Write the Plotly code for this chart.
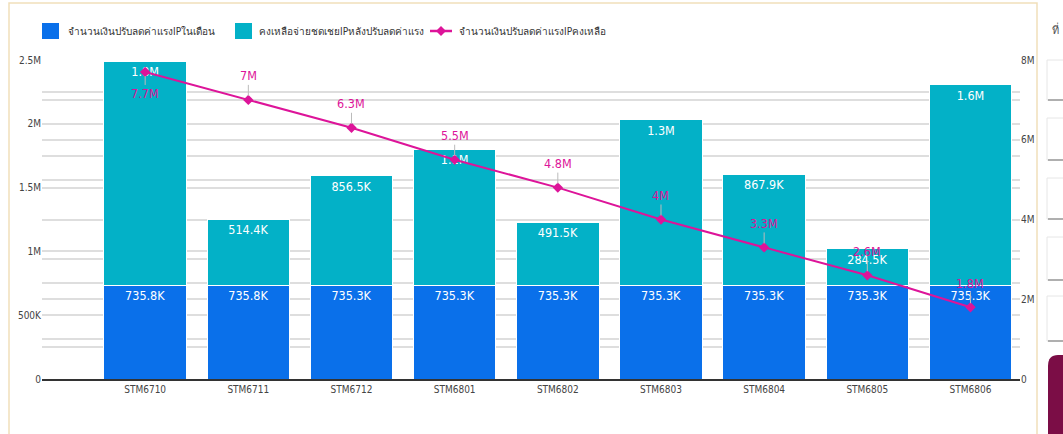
import plotly.graph_objects as go

# ---------------- data ----------------
categories = ["STM6710", "STM6711", "STM6712", "STM6801", "STM6802",
              "STM6803", "STM6804", "STM6805", "STM6806"]
adjust_in_month = [735.8e3, 735.8e3, 735.3e3, 735.3e3, 735.3e3,
                   735.3e3, 735.3e3, 735.3e3, 735.3e3]
remaining_after_adjust = [1.756e6, 514.4e3, 856.5e3, 1.065e6, 491.5e3,
                          1.295e6, 867.9e3, 284.5e3, 1.569e6]
adjust_remaining = [7.7e6, 7.0e6, 6.3e6, 5.5e6, 4.8e6, 4.0e6, 3.3e6, 2.6e6, 1.8e6]

series_names = ["จำนวนเงินปรับลดค่าแรงIPในเดือน",
                "คงเหลือจ่ายชดเชยIPหลังปรับลดค่าแรง",
                "จำนวนเงินปรับลดค่าแรงIPคงเหลือ"]

left_tickvals = [0, 500e3, 1e6, 1.5e6, 2e6, 2.5e6]
left_ticktext = ["0", "500K", "1M", "1.5M", "2M", "2.5M"]
right_tickvals = [0, 2e6, 4e6, 6e6, 8e6]
right_ticktext = ["0", "2M", "4M", "6M", "8M"]


def fmt(v):
    if v >= 1e6:
        s = f"{v / 1e6:.1f}"
        if s.endswith(".0"):
            s = s[:-2]
        return s + "M"
    s = f"{v / 1e3:.1f}"
    if s.endswith(".0"):
        s = s[:-2]
    return s + "K"


# ---------------- style ----------------
FONT = "DejaVu Sans Condensed, Liberation Sans Narrow, sans-serif"
BLUE = "#0a70ea"
TEAL = "#03b1c7"
MAGENTA = "#dd1499"
GRID = "#dedede"

W, H = 1063, 434
L, R, T, B = 42, 43, 60, 55
PW, PH = W - L - R, H - T - B


def px_x(px):
    return (px - L) / PW


def px_y(py):
    return (H - B - py) / PH


fig = go.Figure()

fig.add_trace(go.Bar(
    x=categories, y=adjust_in_month, name=series_names[0],
    marker=dict(color=BLUE, line=dict(color="white", width=1)),
    text=[fmt(v) for v in adjust_in_month], textposition="inside",
    insidetextanchor="end", textangle=0,
    textfont=dict(color="white", size=12.5, family=FONT),
    yaxis="y", showlegend=False,
))
fig.add_trace(go.Bar(
    x=categories, y=remaining_after_adjust, name=series_names[1],
    marker=dict(color=TEAL, line=dict(color="white", width=1)),
    text=[fmt(v) for v in remaining_after_adjust], textposition="inside",
    insidetextanchor="end", textangle=0,
    textfont=dict(color="white", size=12.5, family=FONT),
    yaxis="y", showlegend=False,
))
fig.add_trace(go.Scatter(
    x=categories, y=adjust_remaining, name=series_names[2],
    mode="lines+markers",
    line=dict(color=MAGENTA, width=2),
    marker=dict(color=MAGENTA, size=8, symbol="diamond"),
    yaxis="y2", showlegend=False,
))

annotations = []
for i, (c, v) in enumerate(zip(categories, adjust_remaining)):
    annotations.append(dict(
        x=c, y=v, xref="x", yref="y2", text=fmt(v),
        showarrow=True, arrowhead=0, arrowwidth=1, arrowcolor="#bbbbbb",
        ax=0, ay=(22 if i == 0 else -24), standoff=4,
        font=dict(color=MAGENTA, size=12.5, family=FONT),
    ))

# ---------------- custom legend ----------------
LEG_Y = 31
shapes = []
legend_text_x = [66, 257, 457]
for sq_x, col in [(42, BLUE), (235, TEAL)]:
    shapes.append(dict(type="rect", xref="paper", yref="paper",
                       x0=px_x(sq_x), x1=px_x(sq_x + 17),
                       y0=px_y(LEG_Y + 8), y1=px_y(LEG_Y - 8),
                       fillcolor=col, line=dict(width=0)))
shapes.append(dict(type="line", xref="paper", yref="paper",
                   x0=px_x(430), x1=px_x(452), y0=px_y(LEG_Y), y1=px_y(LEG_Y),
                   line=dict(color=MAGENTA, width=2.5)))
shapes.append(dict(type="path", xref="paper", yref="paper",
                   path=(f"M {px_x(441)} {px_y(LEG_Y - 5)} L {px_x(446)} {px_y(LEG_Y)} "
                         f"L {px_x(441)} {px_y(LEG_Y + 5)} L {px_x(436)} {px_y(LEG_Y)} Z"),
                   fillcolor=MAGENTA, line=dict(width=0)))
for tx, name in zip(legend_text_x, series_names):
    annotations.append(dict(
        x=px_x(tx), y=px_y(LEG_Y), xref="paper", yref="paper", text=name,
        showarrow=False, xanchor="left", yanchor="middle",
        font=dict(color="#333333", size=10, family=FONT),
    ))

# sidebar title (partially visible)
annotations.append(dict(
    x=px_x(1050), y=px_y(30), xref="paper", yref="paper", text="ที่",
    showarrow=False, xanchor="left", yanchor="middle",
    font=dict(color="#555555", size=11, family=FONT),
))

shapes.append(dict(type="rect", xref="paper", yref="paper",
                   x0=px_x(9), x1=px_x(1037), y0=px_y(445), y1=px_y(3),
                   line=dict(color="#f1dfba", width=1.5), fillcolor="rgba(0,0,0,0)",
                   layer="below"))
for top, bot in [(60, 100), (118, 160), (178, 219), (237, 280), (296, 341)]:
    shapes.append(dict(type="rect", xref="paper", yref="paper",
                       x0=px_x(1047), x1=px_x(1075), y0=px_y(bot), y1=px_y(top),
                       line=dict(color="#e6e6e6", width=1), fillcolor="white"))
    shapes.append(dict(type="line", xref="paper", yref="paper",
                       x0=px_x(1048), x1=px_x(1075), y0=px_y(bot), y1=px_y(bot),
                       line=dict(color="#999999", width=1.5)))
shapes.append(dict(type="path", xref="paper", yref="paper",
                   path=(f"M {px_x(1075)} {px_y(355)} L {px_x(1058)} {px_y(355)} "
                         f"Q {px_x(1048)} {px_y(355)} {px_x(1048)} {px_y(366)} "
                         f"L {px_x(1048)} {px_y(445)} L {px_x(1075)} {px_y(445)} Z"),
                   fillcolor="#7b0d46", line=dict(width=0)))

fig.update_layout(
    width=W, height=H,
    margin=dict(l=L, r=R, t=T, b=B),
    paper_bgcolor="white", plot_bgcolor="white",
    barmode="stack", bargap=0.2,
    font=dict(family=FONT, size=10, color="#444444"),
    showlegend=False,
    xaxis=dict(type="category", range=[-1.0, 8.48], showgrid=False,
               showline=True, linecolor="#333333", linewidth=1.5,
               ticks="", tickfont=dict(size=10, color="#444444"), fixedrange=True),
    yaxis=dict(range=[0, 2.5e6], tickvals=left_tickvals, ticktext=left_ticktext,
               showgrid=True, gridcolor=GRID, gridwidth=1.5,
               minor=dict(dtick=250e3, showgrid=True, gridcolor=GRID, gridwidth=1.5),
               zeroline=False, tickfont=dict(size=10, color="#444444")),
    yaxis2=dict(range=[0, 8e6], tickvals=right_tickvals, ticktext=right_ticktext,
                overlaying="y", side="right",
                showgrid=True, gridcolor=GRID, gridwidth=1.5,
                minor=dict(dtick=1e6, showgrid=True, gridcolor=GRID, gridwidth=1.5),
                zeroline=False, tickfont=dict(size=10, color="#444444")),
    annotations=annotations,
    shapes=shapes,
)

fig.write_html("out.html", config={"displayModeBar": False},
               post_script="document.body.style.margin='0';document.body.style.overflow='hidden';")
